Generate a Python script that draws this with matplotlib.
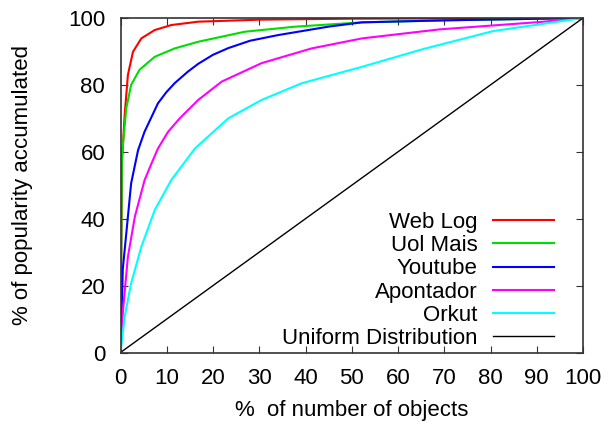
import matplotlib
matplotlib.use("Agg")
import matplotlib.pyplot as plt

# ---- data (percent of objects -> percent of popularity accumulated) ----
weblog_x = [0, 0.32, 0.9, 1.6, 2.7, 4.5, 7.4, 11, 16.8, 30, 50, 100]
weblog_y = [0, 57, 71, 83, 89.9, 93.9, 96.4, 97.9, 98.9, 99.5, 99.8, 100]

uol_x = [0, 0.32, 1.25, 2.3, 4.1, 7.4, 11.7, 16.8, 26.9, 37.7, 52.2, 70, 100]
uol_y = [0, 59, 73, 80, 84.5, 88.4, 90.9, 92.9, 95.9, 97.4, 98.7, 99.3, 100]

youtube_x = [0, 0.5, 1.25, 2.3, 3.8, 5.2, 8.1, 9.9, 11.7, 14.6, 16.8, 20, 23.3, 28, 34.1, 44.9, 52.2, 70, 100]
youtube_y = [0, 25, 35.6, 50.6, 60.5, 66, 74.5, 77.8, 80.5, 84, 86.3, 89, 91, 93.2, 94.9, 97.4, 98.7, 99.3, 100]

apontador_x = [0, 0.54, 1.6, 3.1, 5.2, 6.7, 8.1, 10.3, 12.8, 16.8, 21.9, 30.5, 41.3, 52.2, 69, 90.7, 100]
apontador_y = [0, 12.7, 28.6, 40.6, 51.5, 56.5, 61, 66, 70, 75.5, 81, 86.5, 90.9, 93.9, 96.6, 98.8, 100]

orkut_x = [0, 0.9, 2.3, 4.5, 7.4, 11, 16.1, 23.3, 30.5, 39.2, 52.2, 65.4, 80.6, 100]
orkut_y = [0, 10.7, 20.7, 31.6, 42.6, 51.6, 61, 70, 75.5, 80.5, 85.4, 90.7, 96.1, 100]

uniform_x = [0, 100]
uniform_y = [0, 100]

series = [
    ("Web Log", weblog_x, weblog_y, "#ff0000", 1.5),
    ("Uol Mais", uol_x, uol_y, "#00dd00", 1.5),
    ("Youtube", youtube_x, youtube_y, "#0000ff", 1.5),
    ("Apontador", apontador_x, apontador_y, "#ff00ff", 1.5),
    ("Orkut", orkut_x, orkut_y, "#00ffff", 1.5),
    ("Uniform Distribution", uniform_x, uniform_y, "#000000", 1.0),
]

x_ticks = list(range(0, 101, 10))
y_ticks = list(range(0, 101, 20))

plt.rcParams['font.family'] = ['Liberation Sans', 'DejaVu Sans']
FS = 16

fig = plt.figure(figsize=(6.06, 4.23), dpi=100)
ax = fig.add_axes([120.5 / 606, 1 - 352.5 / 423, (583 - 120.5) / 606, (352.5 - 18) / 423])

for label, xs, ys, color, lw in series:
    ax.plot(xs, ys, color=color, lw=lw, label=label, solid_joinstyle='round')

ax.set_xlim(0, 100)
ax.set_ylim(0, 100)
ax.set_xticks(x_ticks)
ax.set_yticks(y_ticks)
ax.tick_params(direction='in', top=True, right=True, length=5, width=0.8,
               labelsize=FS, pad=11, color='#333333')
for s in ax.spines.values():
    s.set_linewidth(1.2)
    s.set_color('#333333')

ax.set_xlabel("%  of number of objects", fontsize=FS)
ax.set_ylabel("% of popularity accumulated", fontsize=FS)
ax.xaxis.set_label_coords(0.5, -0.142)
ax.yaxis.set_label_coords(-0.189, 0.5)

leg = ax.legend(loc='lower right', bbox_to_anchor=((554 - 120.5) / 462.5, 0.01),
                frameon=False, markerfirst=False, fontsize=FS,
                labelspacing=0.1, handlelength=2.75, handletextpad=0.7,
                borderpad=0, borderaxespad=0)

fig.savefig("out.png", dpi=100)
